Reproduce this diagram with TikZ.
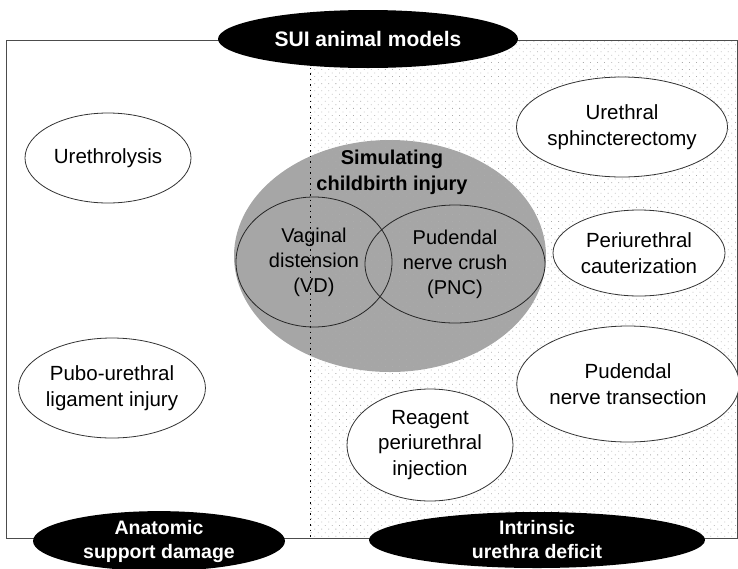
\documentclass[tikz,border=0pt]{standalone}
\usepackage{fontspec}
\setmainfont{Liberation Sans}
\usetikzlibrary{shapes.geometric,patterns.meta}
\tikzdeclarepattern{
  name=puntos,
  type=uncolored,
  bottom left={(-2.5pt,-2.5pt)},
  top right={(2.5pt,2.5pt)},
  tile size={(5pt,5pt)},
  tile transformation={rotate=45},
  code={\fill (0pt,0pt) circle (0.55pt);}
}
\tikzset{
  modelo/.style={ellipse,draw=black!80,thick,fill=white,inner sep=0pt,align=center,
    font=\fontsize{20.5}{25.5}\selectfont},
  grupo/.style={ellipse,fill=black,text=white,inner sep=0pt,align=center,
    font=\bfseries\fontsize{19.5}{24}\selectfont},
  venn/.style={ellipse,draw=black!85,thick,inner sep=0pt,align=center,
    font=\fontsize{20}{25}\selectfont},
}
\begin{document}
\begin{tikzpicture}[x=1pt,y=-1pt]
    \useasboundingbox (0,0) rectangle (738,568);
    % Fondo
    \fill[black!35] (390,256) ellipse [x radius=156, y radius=116];
    \fill[pattern={puntos},pattern color=gray!65] (310,40) rectangle (737,538);
    \draw[black!70,line width=1pt] (6,40) rectangle (737,538);
    \draw[line width=1pt,dash pattern=on 1.5pt off 4pt] (310,40) -- (310,538);
    % Lesion de parto
    \node[font=\bfseries\fontsize{20}{26}\selectfont,align=center] (parto) at (392,172) {Simulating\\childbirth injury};
    \node[venn,minimum width=156,minimum height=130] (vd) at (314,262) {Vaginal\\distension\\(VD)};
    \node[venn,minimum width=180,minimum height=118] (pnc) at (455,264) {Pudendal\\nerve crush\\(PNC)};
    % Modelos de soporte anatomico
    \node[modelo,minimum width=166,minimum height=90] (uretrolisis) at (108,158) {Urethrolysis};
    \node[modelo,minimum width=176,minimum height=100] (ligamento) at (112,388) {Pubo-urethral\\ligament injury};
    % Modelos de deficit intrinseco
    \node[modelo,minimum width=200,minimum height=100] (esfinter) at (622,127) {Urethral\\sphincterectomy};
    \node[modelo,minimum width=172,minimum height=86] (cauterio) at (639,253) {Periurethral\\cauterization};
    \node[modelo,minimum width=194,minimum height=116] (seccion) at (628,384) {Pudendal\\nerve transection};
    \node[modelo,minimum width=166,minimum height=112] (reactivo) at (430,445) {Reagent\\periurethral\\injection};
    % Categorias
    \node[grupo,font=\bfseries\fontsize{21}{25}\selectfont,minimum width=300,minimum height=58] (sui) at (368,39) {SUI animal models};
    \node[grupo,minimum width=252,minimum height=54] (anatomico) at (159,541) {Anatomic\\support damage};
    \node[grupo,minimum width=336,minimum height=56] (intrinseco) at (537,540) {Intrinsic\\urethra deficit};
\end{tikzpicture}
\end{document}
